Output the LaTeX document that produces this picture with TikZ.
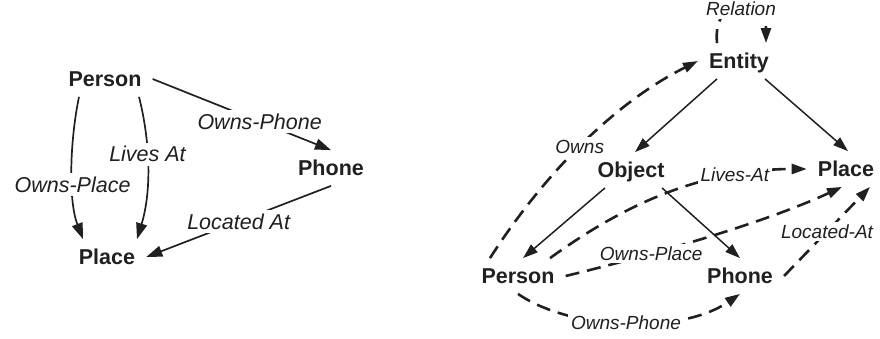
\documentclass[tikz,border=0pt]{standalone}
\usepackage{fontspec}
\setmainfont{Liberation Sans}
\usetikzlibrary{arrows.meta}
\definecolor{ink}{rgb}{0.13,0.12,0.12}
\begin{document}
\begin{tikzpicture}[x=1pt,y=-1pt, color=ink,
 ent/.style={font=\fontsize{21.5}{24}\selectfont\bfseries, text height=15.4pt, text depth=0pt, inner xsep=11pt, inner ysep=10pt},
 lblL/.style={font=\fontsize{21.5}{24}\selectfont\itshape, text height=15.4pt, text depth=0pt, fill=white, inner sep=4pt},
 lblR/.style={font=\fontsize{19}{22}\selectfont\itshape, text height=13.6pt, text depth=0pt, fill=white, inner sep=3pt},
 tipL/.style={-{Triangle[length=16pt,width=11pt]}},
 tipR/.style={-{Triangle[length=15pt,width=10pt]}},
 solL/.style={tipL, line width=1.7pt},
 solR/.style={tipR, line width=1.5pt},
 dsh/.style={tipR, line width=2.6pt, dash pattern=on 14pt off 8pt},
]
\useasboundingbox (0,0) rectangle (880,339);
\clip (0,0) rectangle (880,339);

% ---------------- left diagram ----------------
\node[ent] (lPerson) at (105,79) {Person};
\node[ent] (lPlace)  at (107,257) {Place};
\node[ent] (lPhone)  at (331,168) {Phone};

\draw[solL] ([xshift=-26pt]lPerson.south) .. controls (70,140) and (68,200) .. ([xshift=-24pt]lPlace.north)
  node[lblL, pos=0.6] {Owns-Place};
\draw[solL] ([xshift=34pt]lPerson.south) .. controls (150,140) and (152,190) .. ([xshift=30pt]lPlace.north)
  node[lblL, pos=0.42] {Lives At};
\draw[solL] (lPerson.east) -- (lPhone.north)
  node[lblL, pos=0.6] {Owns-Phone};
\draw[solL] (lPhone.south) -- (lPlace.east)
  node[lblL, pos=0.5] {Located At};

% ---------------- right diagram ----------------
\node[ent] (rEntity) at (739,61) {Entity};
\node[ent] (rObject) at (631,170) {Object};
\node[ent] (rPlace)  at (846,169) {Place};
\node[ent] (rPerson) at (518,276) {Person};
\node[ent] (rPhone)  at (740,276) {Phone};

\draw[dsh] ([xshift=-22pt]rEntity.north) .. controls (712,-6) and (766,-6) .. ([xshift=27pt]rEntity.north);
\node[lblR] (rRel) at (741,9) {Relation};

\draw[solR] ([xshift=-22pt]rEntity.south) -- ([xshift=4pt]rObject.north);
\draw[solR] ([xshift=26pt]rEntity.south) -- ([xshift=2pt]rPlace.north);
\draw[solR] ([xshift=-26pt]rObject.south) -- ([xshift=5pt]rPerson.north);
\draw[solR] ([xshift=31pt]rObject.south) -- (rPhone.north);

\draw[dsh] ([xshift=-28pt]rPerson.north) .. controls (540,180) and (610,105) .. (rEntity.west)
  node[lblR, pos=0.5] {Owns};
\draw[dsh] ([xshift=32pt]rPerson.north) .. controls (610,215) and (690,169) .. (rPlace.west)
  node[lblR, pos=0.78] {Lives-At};
\draw[dsh] (rPerson.east) .. controls (640,258) and (760,225) .. ([xshift=-4pt]rPlace.south)
  node[lblR, pos=0.33] {Owns-Place};
\draw[dsh] (rPhone.east) -- ([xshift=24pt]rPlace.south)
  node[lblR, pos=0.5] {Located-At};
\draw[dsh] (rPerson.south) .. controls (570,330) and (680,335) .. (rPhone.south)
  node[lblR, pos=0.5] {Owns-Phone};
\end{tikzpicture}
\end{document}
